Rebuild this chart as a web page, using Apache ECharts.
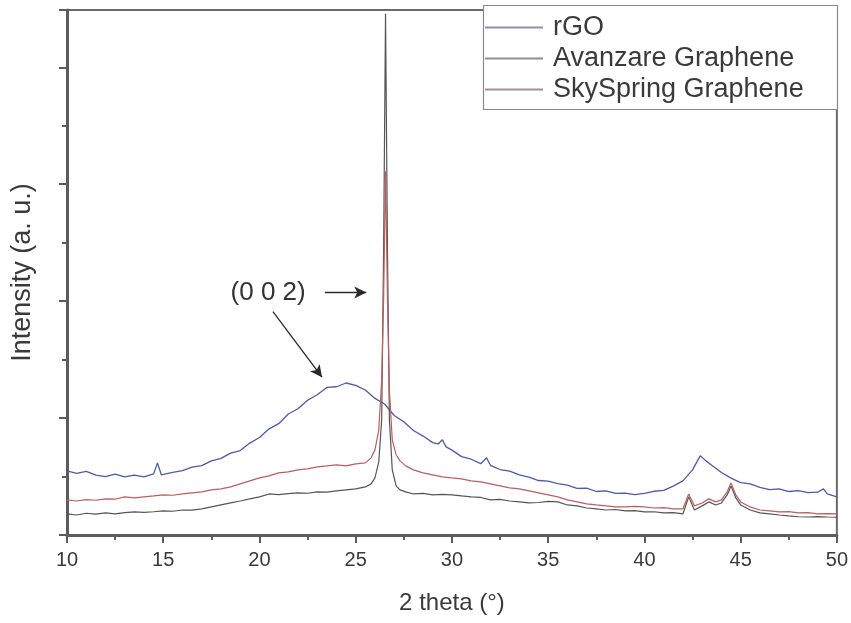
<!DOCTYPE html>
<html>
<head>
<meta charset="utf-8">
<script src="https://cdn.jsdelivr.net/npm/echarts@6/dist/echarts.min.js"></script>
<style>
html,body{margin:0;padding:0;background:#fff;}
#chart{width:851px;height:623px;}
</style>
</head>
<body>
<div id="chart"></div>
<script>
// ---- data (2 theta in degrees, intensity in arbitrary units) ----
const seriesNames = ['rGO', 'Avanzare Graphene', 'SkySpring Graphene'];

const rgoAngle = [10,10.5,11,11.5,12,12.5,13,13.5,14,14.5,14.7,14.9,15.5,16,16.5,17,17.5,18,18.5,19,19.5,20,20.5,21,21.5,22,22.5,23,23.5,24,24.5,25,25.5,26,26.5,27,27.5,28,28.5,29,29.3,29.5,29.7,30,30.5,31,31.5,31.8,32,32.5,33,33.5,34,34.5,35,35.5,36,36.5,37,37.5,38,38.5,39,39.5,40,40.5,41,41.5,42,42.5,42.9,43.2,43.5,44,44.5,45,45.5,46,46.5,47,47.5,48,48.5,49,49.3,49.5,50];
const rgoIntensity = [548,528,545,512,500,520,497,512,498,523,617,515,536,550,580,594,634,655,700,722,786,834,908,952,1035,1080,1152,1200,1262,1268,1300,1280,1240,1168,1120,1022,968,894,846,790,780,814,754,726,670,648,610,660,596,560,546,514,494,466,460,440,426,398,400,372,378,356,358,346,356,374,382,418,463,557,677,634,596,534,486,448,437,408,388,395,372,380,362,366,394,351,326];

const grapheneAngle = [10,10.5,11,11.5,12,12.5,13,13.5,14,14.5,15,15.5,16,16.5,17,17.5,18,18.5,19,19.5,20,20.5,21,21.5,22,22.5,23,23.5,24,24.5,25,25.5,25.8,26,26.2,26.35,26.45,26.55,26.65,26.75,26.9,27.1,27.3,27.6,28,28.5,29,29.5,30,30.5,31,31.5,32,32.5,33,33.5,34,34.5,35,35.5,36,36.5,37,37.5,38,38.5,39,39.5,40,40.5,41,41.5,42,42.3,42.6,43,43.35,43.7,44,44.3,44.5,44.75,45,45.5,46,46.5,47,47.5,48,48.5,49,49.5,50];
const avanzareIntensity = [180,171,186,178,189,180,192,197,194,199,206,203,214,212,223,240,257,274,291,309,326,351,346,354,360,357,369,366,377,386,394,411,437,488,626,986,2443,4457,2443,986,557,420,386,369,351,356,343,347,343,334,326,321,300,304,291,283,274,278,288,283,257,249,231,223,214,218,206,209,197,199,189,192,180,326,214,249,283,257,274,343,420,317,257,214,189,180,171,163,156,154,157,154,152];
const skyspringIntensity = [300,291,303,297,309,306,326,317,326,334,343,340,351,360,369,386,394,411,437,463,488,506,531,540,557,566,583,591,600,591,608,617,660,728,900,1328,2014,3111,2014,1243,814,686,634,591,557,531,514,497,488,480,463,454,437,420,403,394,377,360,343,326,300,283,266,257,249,240,240,244,240,231,234,223,223,351,249,274,309,283,300,369,446,343,283,240,214,206,197,200,189,192,180,183,180];

const xTicks = {min: 10, max: 50, interval: 5};
const yTicks = {min: 0, max: 4490, interval: 1000};

function pairs(xs, ys) { return xs.map((x, i) => [x, ys[i]]); }

const chart = echarts.init(document.getElementById('chart'), null, {renderer: 'canvas'});
const FONT = 'Liberation Sans, Arial, sans-serif';
const axisGrey = '#5c5c5c';

const option = {
  backgroundColor: '#ffffff',
  animation: false,
  grid: {left: 67, right: 13, top: 10, bottom: 88, show: true, borderColor: '#6a6a6a', borderWidth: 2, backgroundColor: 'transparent'},
  graphic: [{
    type: 'rect', z: 10,
    shape: {x: 483.5, y: 5.5, width: 354, height: 104},
    style: {fill: '#ffffff', stroke: '#8a8a8a', lineWidth: 1.2}
  }],
  legend: {
    z: 20,
    orient: 'vertical',
    left: 485, top: 14,
    padding: 0,
    itemGap: 4,
    icon: 'rect',
    itemWidth: 58, itemHeight: 2,
    textStyle: {fontFamily: FONT, fontSize: 27, color: '#3a3a3a', padding: [0, 0, 0, 5]},
    data: [
      {name: 'rGO', itemStyle: {color: '#9092a0'}},
      {name: 'Avanzare Graphene', itemStyle: {color: '#8e8e8e'}},
      {name: 'SkySpring Graphene', itemStyle: {color: '#a09292'}}
    ]
  },
  xAxis: {
    type: 'value', min: xTicks.min, max: xTicks.max, interval: xTicks.interval,
    name: '2 theta (°)', nameLocation: 'middle', nameGap: 56,
    nameTextStyle: {fontFamily: FONT, fontSize: 24, color: '#3a3a3a'},
    axisLine: {show: true, onZero: false, lineStyle: {color: axisGrey, width: 3}},
    axisTick: {show: true, length: 8, lineStyle: {color: axisGrey, width: 2}},
    minorTick: {show: true, splitNumber: 2, length: 5, lineStyle: {color: axisGrey, width: 2}},
    axisLabel: {fontFamily: FONT, fontSize: 20, color: '#3a3a3a', margin: 15},
    splitLine: {show: false}
  },
  yAxis: {
    type: 'value', min: yTicks.min, max: yTicks.max, interval: yTicks.interval,
    name: 'Intensity (a. u.)', nameLocation: 'middle', nameGap: 31,
    nameTextStyle: {fontFamily: FONT, fontSize: 27, color: '#3a3a3a'},
    axisLine: {show: true, onZero: false, lineStyle: {color: axisGrey, width: 3}},
    axisTick: {show: true, length: 8, lineStyle: {color: axisGrey, width: 2}},
    minorTick: {show: true, splitNumber: 2, length: 5, lineStyle: {color: axisGrey, width: 2}},
    axisLabel: {show: false},
    splitLine: {show: false}
  },
  series: [
    {
      name: seriesNames[0], type: 'line', showSymbol: false, symbol: 'none',
      data: pairs(rgoAngle, rgoIntensity),
      lineStyle: {color: '#4f5aa3', width: 1.3}, itemStyle: {color: '#4f5aa3'},
      markLine: {
        silent: true, symbol: ['none', 'arrow'], symbolSize: [9, 12],
        label: {show: false},
        lineStyle: {color: '#2a2a2a', width: 1.3, type: 'solid'},
        data: [
          [{coord: [23.4, 2074]}, {coord: [25.55, 2074]}],
          [{coord: [20.7, 1911]}, {coord: [23.25, 1350]}]
        ]
      },
      markPoint: {
        silent: true, symbol: 'circle', symbolSize: 0,
        label: {show: true, position: 'inside', formatter: '(0 0 2)', fontFamily: FONT, fontSize: 26, color: '#333'},
        data: [{coord: [20.45, 2074]}]
      }
    },
    {
      name: seriesNames[1], type: 'line', showSymbol: false, symbol: 'none',
      data: pairs(grapheneAngle, avanzareIntensity),
      lineStyle: {color: '#555555', width: 1.2}, itemStyle: {color: '#555555'}
    },
    {
      name: seriesNames[2], type: 'line', showSymbol: false, symbol: 'none',
      data: pairs(grapheneAngle, skyspringIntensity),
      lineStyle: {color: '#b85f5f', width: 1.2}, itemStyle: {color: '#b85f5f'}
    }
  ]
};
chart.setOption(option);
</script>
</body>
</html>
